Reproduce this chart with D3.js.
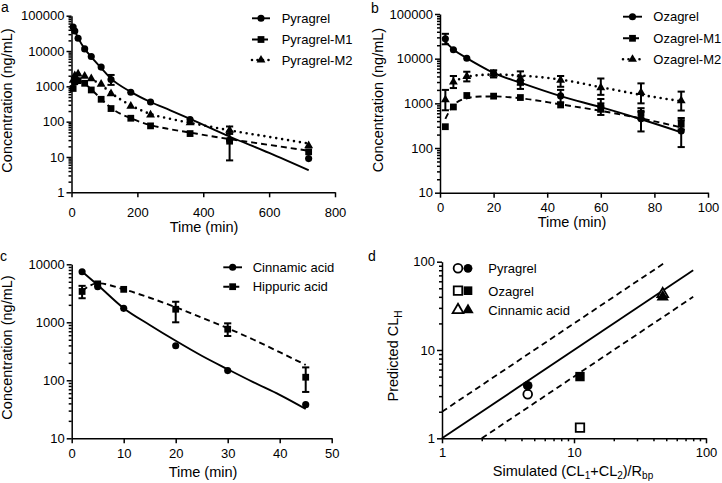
<!DOCTYPE html>
<html><head><meta charset="utf-8">
<script src="https://cdn.jsdelivr.net/npm/d3@7"></script>
<style>
body{margin:0;background:#fff;}
svg text{font-family:"Liberation Sans",Arial,sans-serif;fill:#000;}
</style></head><body>
<svg id="c" width="722" height="483"></svg>
<script>
// ---------------- Panel a : Pyragrel ----------------
const timesA = [5, 10, 20, 40, 60, 90, 120, 180, 240, 360, 480, 720];
const pyragrelA = [48000, 37000, 23000, 11500, 7000, 3500, 1550, 680, 360, 115, 30, 9];
const pyragrelLoA = [48000, 37000, 23000, 11500, 7000, 3500, 1100, 680, 320, 100, 8, 8];
const pyragrelHiA = [48000, 37000, 23000, 11500, 7000, 3500, 2100, 680, 400, 130, 52, 10.5];
const m1A = [870, 1350, 1450, 1220, 790, 430, 235, 125, 76, 46, 28, 14];
const m1LoA = [870, 1350, 1450, 1220, 790, 430, 235, 125, 76, 46, 28, 12];
const m1HiA = [870, 1350, 1450, 1220, 790, 430, 235, 125, 76, 46, 28, 16];
const m2A = [1500, 2000, 2250, 1950, 1650, 1150, 620, 275, 155, 93, 57, 21];
const m2LoA = [1500, 2000, 2250, 1950, 1650, 1150, 620, 275, 155, 93, 45, 18];
const m2HiA = [1500, 2000, 2250, 1950, 1650, 1150, 620, 275, 155, 93, 73, 25];
const fitTimesA = [2, 5, 10, 20, 40, 60, 90, 120, 180, 240, 300, 360, 480, 600, 720];
const pyragrelFitA = [52000, 46000, 37000, 23500, 11500, 6800, 3300, 1650, 700, 360, 210, 120, 38, 13, 4.2];
const m1FitA = [800, 950, 1250, 1450, 1200, 820, 440, 245, 125, 80, 61, 49, 32, 22, 15];
const m2FitA = [1300, 1600, 2000, 2200, 1950, 1600, 1100, 650, 290, 165, 120, 93, 57, 37, 24];
const xTicksA = [0, 200, 400, 600, 800];
const yTicksA = [1, 10, 100, 1000, 10000, 100000];
const legendA = ["Pyragrel", "Pyragrel-M1", "Pyragrel-M2"];

// ---------------- Panel b : Ozagrel ----------------
const timesB = [2, 5, 10, 20, 30, 45, 60, 75, 90];
const ozagrelB = [28000, 15800, 10200, 4700, 3000, 1470, 850, 450, 240];
const ozagrelLoB = [21000, 14800, 9500, 4100, 2100, 1050, 550, 235, 105];
const ozagrelHiB = [36000, 16800, 11000, 5300, 4000, 2000, 1250, 650, 470];
const m1B = [300, 830, 1500, 1450, 1350, 920, 800, 600, 340];
const m1LoB = [280, 780, 1350, 1350, 1250, 820, 650, 450, 260];
const m1HiB = [330, 900, 1650, 1550, 1450, 1020, 1000, 780, 420];
const m2B = [1200, 3000, 4000, 4500, 3600, 3300, 2250, 1750, 1150];
const m2LoB = [700, 2200, 3100, 3800, 2600, 2350, 1550, 1000, 690];
const m2HiB = [2000, 4100, 5100, 5500, 5200, 4100, 3600, 2800, 1830];
const fitTimesB = [2, 5, 10, 15, 20, 30, 45, 60, 75, 90];
const ozagrelFitB = [24000, 16000, 10300, 6900, 4800, 2900, 1450, 820, 440, 225];
const m1FitB = [450, 900, 1300, 1420, 1430, 1300, 950, 680, 460, 290];
const m2FitTimesB = [5, 10, 15, 20, 30, 45, 60, 75, 90];
const m2FitB = [3100, 3900, 4300, 4400, 4200, 3400, 2300, 1550, 1120];
const xTicksB = [0, 20, 40, 60, 80, 100];
const yTicksB = [10, 100, 1000, 10000, 100000];
const legendB = ["Ozagrel", "Ozagrel-M1", "Ozagrel-M2"];

// ---------------- Panel c : Cinnamic acid ----------------
const timesC = [2, 5, 10, 20, 30, 45];
const cinnamicC = [7450, 4100, 1740, 395, 147, 38];
const hippuricC = [3400, 4600, 3700, 1680, 760, 113];
const hippuricLoC = [2600, 4200, 3450, 1000, 580, 63];
const hippuricHiC = [4250, 5000, 3950, 2260, 960, 167];
const fitTimesC = [2, 5, 10, 15, 20, 25, 30, 35, 40, 45];
const cinnamicFitC = [7500, 4400, 1750, 900, 480, 265, 155, 92, 56, 32];
const hippuricFitC = [3500, 4700, 3700, 2650, 1820, 1200, 790, 500, 305, 184];
const xTicksC = [0, 10, 20, 30, 40, 50];
const yTicksC = [10, 100, 1000, 10000];
const legendC = ["Cinnamic acid", "Hippuric acid"];

// ---------------- Panel d : CLH ----------------
const compoundsD = ["Pyragrel", "Ozagrel", "Cinnamic acid"];
const simulatedD = [4.46, 11.1, 47];
const predictedOpenD = [3.15, 1.32, 43];
const predictedFilledD = [3.94, 5.0, 40];
const unityX = [1, 80], unityY = [1, 80];
const upperX = [1, 50], upperY = [2, 100];
const lowerX = [2, 80], lowerY = [1, 40];
const ticksD = [1, 10, 100];

// ---------------- helpers ----------------
const svg = d3.select("#c");
const FONT = 13;

function minorTicks(dom) {
  const out = [];
  const e0 = Math.round(Math.log10(dom[0])), e1 = Math.round(Math.log10(dom[1]));
  for (let e = e0; e < e1; e++) for (let k = 2; k <= 9; k++) out.push(k * Math.pow(10, e));
  return out;
}
function styleAxis(g) {
  g.attr("font-family", null).attr("font-size", null);
  g.selectAll("path,line").attr("stroke", "#000").attr("stroke-width", 1.5);
  g.selectAll("text").attr("font-size", FONT).attr("fill", "#000");
}
function yAxisLog(x0, y, ticks, pad) {
  const gm = svg.append("g").attr("transform", `translate(${x0},0)`)
    .call(d3.axisLeft(y).tickValues(minorTicks(y.domain())).tickSize(3).tickFormat(""));
  gm.select(".domain").remove(); styleAxis(gm);
  const g = svg.append("g").attr("transform", `translate(${x0},0)`)
    .call(d3.axisLeft(y).tickValues(ticks).tickSize(5).tickPadding(pad).tickSizeOuter(0).tickFormat(d3.format("d")));
  styleAxis(g);
}
function xAxisLin(y0, x, ticks, pad) {
  const g = svg.append("g").attr("transform", `translate(0,${y0})`)
    .call(d3.axisBottom(x).tickValues(ticks).tickSize(5).tickPadding(pad).tickSizeOuter(0).tickFormat(d3.format("d")));
  styleAxis(g);
}
function xAxisLog(y0, x, ticks, pad) {
  const gm = svg.append("g").attr("transform", `translate(0,${y0})`)
    .call(d3.axisBottom(x).tickValues(minorTicks(x.domain())).tickSize(3).tickFormat(""));
  gm.select(".domain").remove(); styleAxis(gm);
  const g = svg.append("g").attr("transform", `translate(0,${y0})`)
    .call(d3.axisBottom(x).tickValues(ticks).tickSize(5).tickPadding(pad).tickSizeOuter(0).tickFormat(d3.format("d")));
  styleAxis(g);
}
const DASH = { solid: null, dashed: "6,4", dotted: "0,6" };
function fitLine(x, y, times, vals, style) {
  const line = d3.line().x(d => x(d[0])).y(d => y(d[1])).curve(d3.curveMonotoneX);
  svg.append("path").datum(d3.zip(times, vals)).attr("d", line)
    .attr("fill", "none").attr("stroke", "#000")
    .attr("stroke-width", style === "dotted" ? 2.6 : 1.9)
    .attr("stroke-linecap", style === "dotted" ? "round" : "butt")
    .attr("stroke-dasharray", DASH[style]);
}
const SYM = { circle: d3.symbolCircle, square: d3.symbolSquare, triangle: d3.symbolTriangle };
const SIZE = { circle: 40, square: 46, triangle: 34 };
function errorBars(x, y, times, lo, hi) {
  const cap = 3.6;
  times.forEach((t, i) => {
    if (Math.abs(y(lo[i]) - y(hi[i])) < 7) return;
    const xx = x(t);
    const g = svg.append("g").attr("stroke", "#000").attr("stroke-width", 2);
    g.append("line").attr("x1", xx).attr("x2", xx).attr("y1", y(lo[i])).attr("y2", y(hi[i]));
    g.append("line").attr("x1", xx - cap).attr("x2", xx + cap).attr("y1", y(lo[i])).attr("y2", y(lo[i]));
    g.append("line").attr("x1", xx - cap).attr("x2", xx + cap).attr("y1", y(hi[i])).attr("y2", y(hi[i]));
  });
}
function markers(x, y, times, vals, shape) {
  const s = d3.symbol().type(SYM[shape]).size(SIZE[shape]);
  svg.append("g").selectAll("path").data(d3.zip(times, vals)).join("path")
    .attr("d", s).attr("transform", d => `translate(${x(d[0])},${y(d[1])})`).attr("fill", "#000");
}
function legendRow(x0, x1, xt, yy, label, shape, style) {
  svg.append("line").attr("x1", x0).attr("x2", x1).attr("y1", yy).attr("y2", yy)
    .attr("stroke", "#000").attr("stroke-width", style === "dotted" ? 2.6 : 1.9)
    .attr("stroke-linecap", style === "dotted" ? "round" : "butt")
    .attr("stroke-dasharray", style === "dotted" ? "0,5.5" : DASH[style]);
  svg.append("path").attr("d", d3.symbol().type(SYM[shape]).size(SIZE[shape])())
    .attr("transform", `translate(${(x0 + x1) / 2},${yy})`).attr("fill", "#000");
  svg.append("text").attr("x", xt).attr("y", yy + 4.6).attr("font-size", FONT).text(label);
}
function yTitle(xb, yc, txt) {
  svg.append("text").attr("transform", `translate(${xb},${yc}) rotate(-90)`)
    .attr("text-anchor", "middle").attr("font-size", 14.5).text(txt);
}
function xTitle(xc, yb, txt) {
  svg.append("text").attr("x", xc).attr("y", yb).attr("text-anchor", "middle").attr("font-size", 14.5).text(txt);
}
function letter(x, y, t) { svg.append("text").attr("x", x).attr("y", y).attr("font-size", 14).text(t); }

// ---------------- Panel a ----------------
{
  const x = d3.scaleLinear().domain([0, 800]).range([71.5, 335]);
  const y = d3.scaleLog().domain([1, 100000]).range([192.3, 15.7]);
  fitLine(x, y, fitTimesA, pyragrelFitA, "solid");
  fitLine(x, y, fitTimesA, m1FitA, "dashed");
  fitLine(x, y, fitTimesA, m2FitA, "dotted");
  errorBars(x, y, timesA, pyragrelLoA, pyragrelHiA);
  errorBars(x, y, timesA, m1LoA, m1HiA);
  errorBars(x, y, timesA, m2LoA, m2HiA);
  markers(x, y, timesA, m1A, "square");
  markers(x, y, timesA, m2A, "triangle");
  markers(x, y, timesA, pyragrelA, "circle");
  yAxisLog(71.5, y, yTicksA, 2);
  xAxisLin(192.3, x, xTicksA, 10);
  yTitle(11.5, 100.5, "Concentration (ng/mL)");
  xTitle(204, 232, "Time (min)");
  legendRow(252, 270, 281.7, 18.3, legendA[0], "circle", "solid");
  legendRow(252, 270, 281.7, 39.5, legendA[1], "square", "dashed");
  legendRow(252, 270, 281.7, 60, legendA[2], "triangle", "dotted");
  letter(1, 12, "a");
}
// ---------------- Panel b ----------------
{
  const x = d3.scaleLinear().domain([0, 100]).range([440, 708]);
  const y = d3.scaleLog().domain([10, 100000]).range([192.7, 14]);
  fitLine(x, y, fitTimesB, ozagrelFitB, "solid");
  fitLine(x, y, fitTimesB, m1FitB, "dashed");
  fitLine(x, y, m2FitTimesB, m2FitB, "dotted");
  errorBars(x, y, timesB, ozagrelLoB, ozagrelHiB);
  errorBars(x, y, timesB, m1LoB, m1HiB);
  errorBars(x, y, timesB, m2LoB, m2HiB);
  markers(x, y, timesB, m1B, "square");
  markers(x, y, timesB, m2B, "triangle");
  markers(x, y, timesB, ozagrelB, "circle");
  yAxisLog(440, y, yTicksB, 2);
  xAxisLin(192.7, x, xTicksB, 5);
  yTitle(383, 100, "Concentration (ng/mL)");
  xTitle(572, 227, "Time (min)");
  legendRow(623, 642, 653.3, 16.7, legendB[0], "circle", "solid");
  legendRow(623, 642, 653.3, 38.3, legendB[1], "square", "dashed");
  legendRow(623, 642, 653.3, 59.3, legendB[2], "triangle", "dotted");
  letter(371, 13, "b");
}
// ---------------- Panel c ----------------
{
  const x = d3.scaleLinear().domain([0, 50]).range([71.7, 331.7]);
  const y = d3.scaleLog().domain([10, 10000]).range([438.3, 264.3]);
  fitLine(x, y, fitTimesC, cinnamicFitC, "solid");
  fitLine(x, y, fitTimesC, hippuricFitC, "dashed");
  errorBars(x, y, timesC, hippuricLoC, hippuricHiC);
  markers(x, y, timesC, hippuricC, "square");
  markers(x, y, timesC, cinnamicC, "circle");
  yAxisLog(71.7, y, yTicksC, 2);
  xAxisLin(438.3, x, xTicksC, 5);
  yTitle(11.5, 347.5, "Concentration (ng/mL)");
  xTitle(203, 477, "Time (min)");
  legendRow(223.3, 242, 252.7, 267.3, legendC[0], "circle", "solid");
  legendRow(223.3, 242, 252.7, 286.7, legendC[1], "square", "dashed");
  letter(0, 261, "c");
}
// ---------------- Panel d ----------------
{
  const x = d3.scaleLog().domain([1, 100]).range([442, 706]);
  const y = d3.scaleLog().domain([1, 100]).range([438.3, 261.7]);
  const seg = (xs, ys, dash) => svg.append("line")
    .attr("x1", x(xs[0])).attr("y1", y(ys[0])).attr("x2", x(xs[1])).attr("y2", y(ys[1]))
    .attr("stroke", "#000").attr("stroke-width", 1.8).attr("stroke-dasharray", dash);
  seg(unityX, unityY, null);
  seg(upperX, upperY, "6,4");
  seg(lowerX, lowerY, "6,4");
  const shapes = ["circle", "square", "triangle"];
  const openSize = { circle: 60, square: 72, triangle: 50 };
  const fillSize = { circle: 72, square: 88, triangle: 66 };
  compoundsD.forEach((c, i) => {
    const sh = shapes[i];
    svg.append("path").attr("d", d3.symbol().type(SYM[sh]).size(openSize[sh])())
      .attr("transform", `translate(${x(simulatedD[i])},${y(predictedOpenD[i])})`)
      .attr("fill", "#fff").attr("stroke", "#000").attr("stroke-width", 1.8);
    svg.append("path").attr("d", d3.symbol().type(SYM[sh]).size(fillSize[sh])())
      .attr("transform", `translate(${x(simulatedD[i])},${y(predictedFilledD[i])})`).attr("fill", "#000");
    const ly = [268.3, 290.7, 310][i];
    svg.append("path").attr("d", d3.symbol().type(SYM[sh]).size(openSize[sh])())
      .attr("transform", `translate(458,${ly})`).attr("fill", "#fff").attr("stroke", "#000").attr("stroke-width", 1.8);
    svg.append("path").attr("d", d3.symbol().type(SYM[sh]).size(fillSize[sh] * 0.85)())
      .attr("transform", `translate(468,${ly})`).attr("fill", "#000");
    svg.append("text").attr("x", 488.3).attr("y", ly + 4.8).attr("font-size", FONT).text(c);
  });
  yAxisLog(442, y, ticksD, 2);
  xAxisLog(438.3, x, ticksD, 4);
  const yt = svg.append("text").attr("transform", "translate(398,356) rotate(-90)")
    .attr("text-anchor", "middle").attr("font-size", 14.5);
  yt.append("tspan").text("Predicted CL");
  yt.append("tspan").attr("font-size", 10).attr("dy", 4).text("H");
  const xt = svg.append("text").attr("x", 573).attr("y", 476).attr("text-anchor", "middle").attr("font-size", 14.5);
  xt.append("tspan").text("Simulated (CL");
  xt.append("tspan").attr("font-size", 10).attr("dy", 3).text("1");
  xt.append("tspan").attr("dy", -3).text("+CL");
  xt.append("tspan").attr("font-size", 10).attr("dy", 3).text("2");
  xt.append("tspan").attr("dy", -3).text(")/R");
  xt.append("tspan").attr("font-size", 10).attr("dy", 3).text("bp");
  letter(368, 260.5, "d");
}
</script>
</body></html>
